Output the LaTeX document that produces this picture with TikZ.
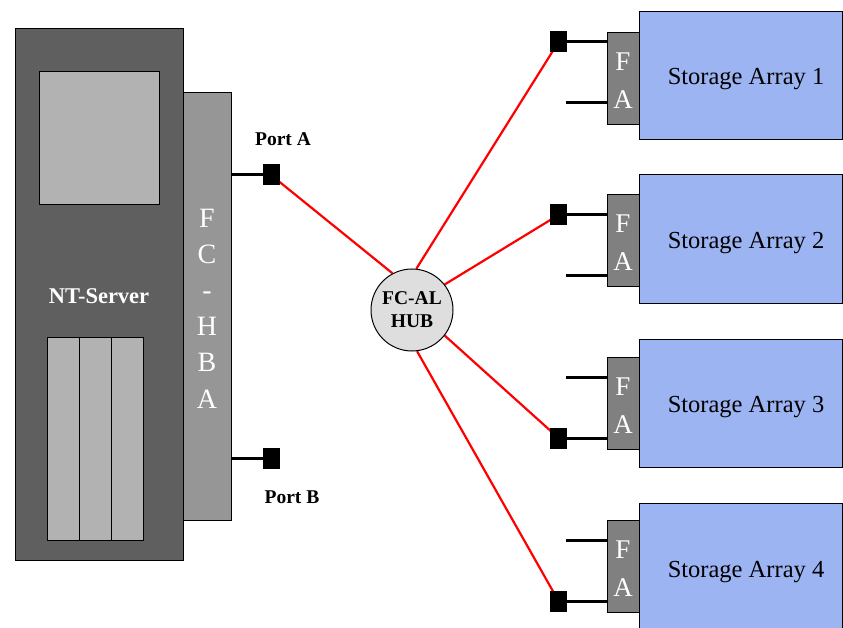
\documentclass[tikz,border=0pt]{standalone}
\usepackage{fontspec}
\setmainfont{Liberation Serif}
\pgfdeclarelayer{bg}
\pgfsetlayers{bg,main}
\definecolor{srvgray}{RGB}{95,95,95}
\definecolor{scrgray}{RGB}{178,178,178}
\definecolor{hbagray}{RGB}{150,150,150}
\definecolor{fagray}{RGB}{128,128,128}
\definecolor{stblue}{RGB}{157,180,243}
\definecolor{hubgray}{RGB}{222,222,222}
\begin{document}
\begin{tikzpicture}[x=1pt,y=-1pt,
  box/.style={draw=black, line width=1pt, rectangle, inner sep=0pt, outer sep=0pt},
  portsq/.style={fill=black, rectangle, inner sep=0pt, outer sep=0pt, minimum width=17pt, minimum height=21pt},
  cable/.style={line width=3pt, black},
  fibre/.style={line width=2.2pt, red},
  whiteletter/.style={text=white, font=\fontsize{28}{30}\selectfont, anchor=base, inner sep=0pt},
  boldlabel/.style={font=\fontsize{19.5}{23}\selectfont\bfseries, anchor=base, inner sep=0pt},
  sttext/.style={font=\fontsize{24.5}{28}\selectfont, anchor=base, inner sep=0pt}]
\useasboundingbox (0,0) rectangle (843,628);

% server
\node[box, fill=srvgray, minimum width=168pt, minimum height=531pt] (server) at (99,294.5) {};
\node[box, fill=scrgray, minimum width=120pt, minimum height=133pt] (screen) at (99,138.5) {};
\node[box, fill=scrgray, minimum width=32pt, minimum height=203pt] (bay1) at (63,438.5) {};
\node[box, fill=scrgray, minimum width=32pt, minimum height=203pt] (bay2) at (95,438.5) {};
\node[box, fill=scrgray, minimum width=32pt, minimum height=203pt] (bay3) at (127,438.5) {};
\node[boldlabel, text=white, font=\fontsize{22.5}{26}\selectfont\bfseries] (ntlabel) at (99,303) {NT-Server};

% HBA
\node[box, fill=hbagray, minimum width=48pt, minimum height=427pt] (hba) at (207,306.5) {};
\foreach \l [count=\k] in {F,C,-,H,B,A} {
  \node[whiteletter] (hbaL\k) at (207,{227.5+36.1*(\k-1)}) {\l};
}

% ports
\node[portsq] (pA) at (271,175) {};
\node[portsq] (pB) at (271,458.5) {};
\node[boldlabel] (pAlabel) at (283,146) {Port A};
\node[boldlabel] (pBlabel) at (292,503) {Port B};

% hub
\node[circle, draw=black, line width=1pt, fill=hubgray, minimum size=82pt, inner sep=0pt,
      align=center, font=\fontsize{19.5}{23}\selectfont\bfseries] (hub) at (412,310) {FC-AL\\HUB};

% storage arrays
\foreach \i/\t/\f/\sq/\fr in {1/11.3/32.3/42/103, 2/175/194.3/215/276, 3/339.3/357.3/438/377, 4/503.7/520/601/540} {
  \node[box, fill=stblue, minimum width=203pt, minimum height=128pt] (st\i) at (740.5,\t+64) {};
  \node[sttext] (stt\i) at (746,\t+73.5) {Storage Array \i};
  \node[box, fill=fagray, minimum width=32pt, minimum height=92pt] (fa\i) at (623,\f+46) {};
  \node[whiteletter, font=\fontsize{27}{30}\selectfont] (faF\i) at (623,\f+46-7.5) {F};
  \node[whiteletter, font=\fontsize{27}{30}\selectfont] (faA\i) at (623,\f+46+30.5) {A};
  \node[portsq] (sq\i) at (558.5,\sq) {};
  \coordinate (free\i) at (566,\fr);
}

\begin{pgfonlayer}{bg}
  \draw[cable] (hba.east |- pA) -- (pA);
  \draw[cable] (hba.east |- pB) -- (pB);
  \foreach \i in {1,2,3,4} {
    \draw[cable] (sq\i) -- (sq\i -| fa\i.west);
    \draw[cable] (free\i) -- (free\i -| fa\i.west);
  }
  \draw[fibre] (hub.118) -- (pA.center);
  \draw[fibre] (hub.84) -- (sq1.center);
  \draw[fibre] (hub.38) -- (sq2.center);
  \draw[fibre] (hub.-38) -- (sq3.center);
  \draw[fibre] (hub.-83) -- (sq4.center);
\end{pgfonlayer}
\end{tikzpicture}
\end{document}
